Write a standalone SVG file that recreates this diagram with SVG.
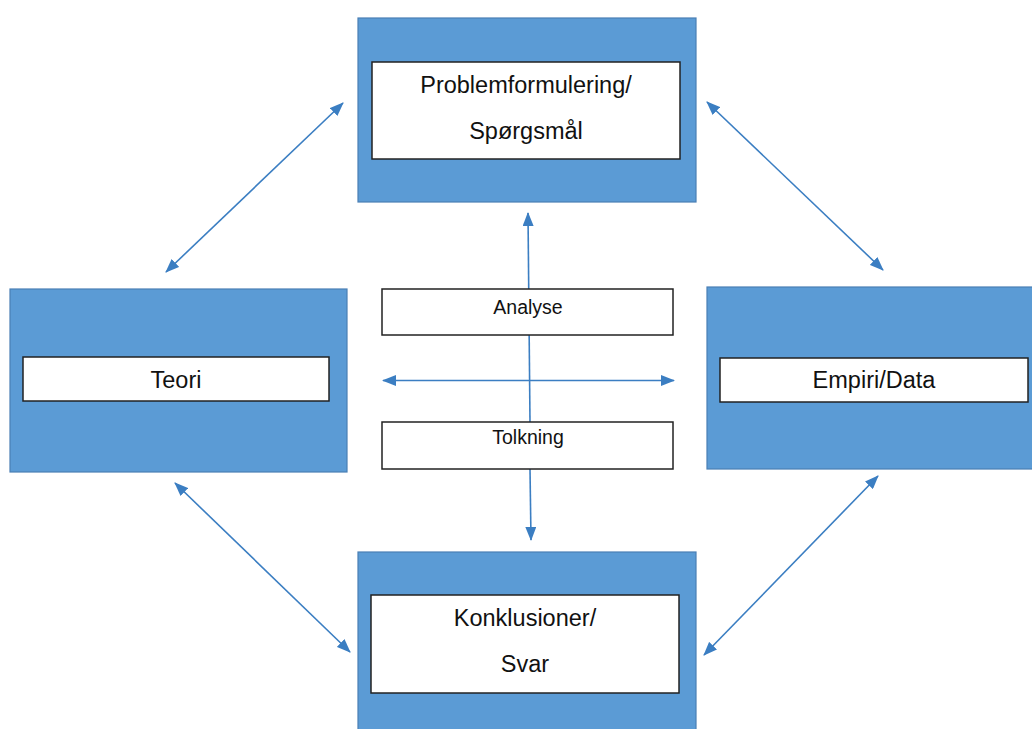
<svg xmlns="http://www.w3.org/2000/svg" width="1032" height="729" viewBox="0 0 1032 729">
  <style>
    .outer { fill: #5b9bd5; stroke: #4a7fb5; stroke-width: 1.2; }
    .inner { fill: #ffffff; stroke: #222222; stroke-width: 1.5; }
    .label { font-family: "Liberation Sans", Arial, sans-serif; font-size: 23.5px; fill: #111111; text-anchor: middle; }
    .small { font-family: "Liberation Sans", Arial, sans-serif; font-size: 19.5px; fill: #111111; text-anchor: middle; }
    .link { stroke: #3b7ec2; stroke-width: 1.6; fill: none; }
  </style>
  <defs>
    <marker id="head" viewBox="0 0 14 11" refX="13" refY="5.5" markerWidth="14" markerHeight="11" markerUnits="userSpaceOnUse" orient="auto-start-reverse">
      <path d="M0,0 L14,5.5 L0,11 Z" fill="#3b7ec2"/>
    </marker>
  </defs>
  <rect width="1032" height="729" fill="#ffffff"/>

  <g id="problem">
    <rect class="outer" x="358" y="18" width="338" height="184"/>
    <rect class="inner" x="372" y="62" width="308" height="97"/>
    <text class="label" x="526" y="93">Problemformulering/</text>
    <text class="label" x="526" y="139">Spørgsmål</text>
  </g>

  <g id="teori">
    <rect class="outer" x="10" y="289" width="337" height="183"/>
    <rect class="inner" x="23" y="357" width="306" height="44"/>
    <text class="label" x="176" y="388">Teori</text>
  </g>

  <g id="empiri">
    <rect class="outer" x="707" y="287" width="330" height="182"/>
    <rect class="inner" x="720" y="358" width="308" height="44"/>
    <text class="label" x="874" y="388">Empiri/Data</text>
  </g>

  <g id="konklusion">
    <rect class="outer" x="358" y="552" width="338" height="185"/>
    <rect class="inner" x="371" y="595" width="308" height="98"/>
    <text class="label" x="525" y="626">Konklusioner/</text>
    <text class="label" x="525" y="672">Svar</text>
  </g>

  <g id="connectors">
    <line class="link" x1="166" y1="272" x2="343" y2="103" marker-start="url(#head)" marker-end="url(#head)"/>
    <line class="link" x1="707" y1="102" x2="883" y2="270" marker-start="url(#head)" marker-end="url(#head)"/>
    <line class="link" x1="175" y1="483" x2="350" y2="652" marker-start="url(#head)" marker-end="url(#head)"/>
    <line class="link" x1="878" y1="476" x2="704" y2="655" marker-start="url(#head)" marker-end="url(#head)"/>
    <line class="link" x1="383" y1="380.5" x2="674" y2="380.5" marker-start="url(#head)" marker-end="url(#head)"/>
    <line class="link" x1="530" y1="422" x2="528" y2="213" marker-end="url(#head)"/>
    <line class="link" x1="530" y1="469" x2="531" y2="540" marker-end="url(#head)"/>
  </g>

  <g id="analyse">
    <rect class="inner" x="382" y="289" width="291" height="46"/>
    <text class="small" x="528" y="314">Analyse</text>
  </g>

  <g id="tolkning">
    <rect class="inner" x="382" y="422" width="291" height="47"/>
    <text class="small" x="528" y="444">Tolkning</text>
  </g>
</svg>
